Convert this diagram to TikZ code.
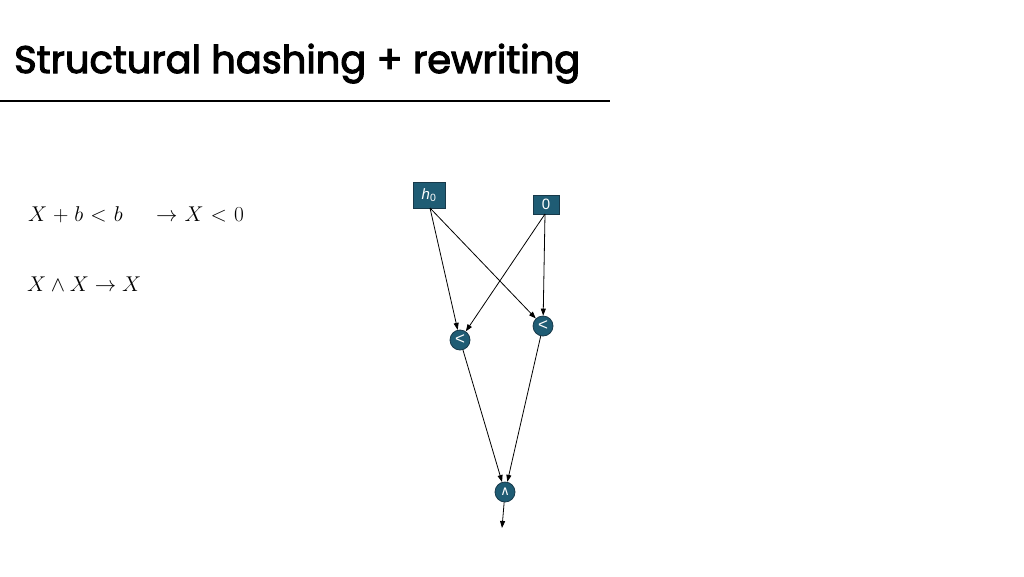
\documentclass[tikz,border=0pt]{standalone}
\usepackage{amsmath}
\usepackage{fontspec}
\setmainfont{Poppins}
\newfontfamily\titlefont[FakeBold=2.8]{Poppins}
\newfontfamily\nodefont{Liberation Sans}
\newfontfamily\symfont{DejaVu Sans}
\usetikzlibrary{arrows.meta}
\definecolor{nodefill}{HTML}{1F5C74}
\definecolor{nodeborder}{HTML}{17394A}
\tikzset{
  gate/.style={circle, fill=nodefill, draw=nodeborder, line width=0.8pt, minimum size=20pt, inner sep=0pt, text=white, font=\nodefont\fontsize{17}{17}\selectfont},
  leaf/.style={rectangle, fill=nodefill, draw=nodeborder, line width=0.8pt, inner sep=0pt, text=white, font=\nodefont\fontsize{15}{15}\selectfont},
  edge/.style={line width=0.8pt, -{Triangle[length=7pt,width=5pt]}},
  mathtext/.style={anchor=base west, inner sep=0pt, font=\fontsize{22}{26}\selectfont}
}
\begin{document}
\begin{tikzpicture}[x=1pt,y=-1pt]
\useasboundingbox (0,0) rectangle (1024,576);
\node[anchor=base west, inner sep=0pt, font=\titlefont\fontsize{40}{46}\selectfont] (title) at (14,73) {\resizebox{566pt}{!}{Structural hashing + rewriting}};
\draw[line width=2.5pt] (0,101) -- (610,101);
\node[mathtext] (r1) at (28,221) {\scalebox{1.03}{\thickmuskip=6mu\medmuskip=5mu$X+b<b\quad\,\to X<0$}};
\node[mathtext] (r2) at (27,291) {\scalebox{1.03}{$X\wedge X\to X$}};
\node[leaf, minimum width=32pt, minimum height=26pt] (h0) at (429,195) {$\textit{h}_{\text{0}}$};
\node[leaf, minimum width=26pt, minimum height=19pt] (z) at (546,204.5) {0};
\node[gate] (l1) at (460,340) {<};
\node[gate] (l2) at (543,326) {<};
\node[gate, font=\symfont\fontsize{13}{13}\selectfont] (a) at (505,492) {∧};
\coordinate (out) at (502,528);
\coordinate (h0s) at (430,208);
\coordinate (zs) at (545,214);
\draw[edge] (h0s) -- (l1);
\draw[edge] (h0s) -- (l2);
\draw[edge] (zs) -- (l1);
\draw[edge] (zs) -- (l2);
\draw[edge] (l1) -- (a);
\draw[edge] (l2) -- (a);
\draw[edge] (a) -- (out);
\end{tikzpicture}
\end{document}
